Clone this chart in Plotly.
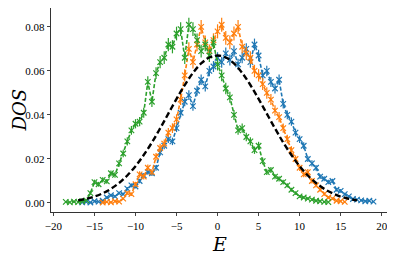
import plotly.graph_objects as go

# ---- data ----
E_blue = [-16.5,-16.0,-15.5,-15.0,-14.5,-14.0,-13.5,-13.0,-12.5,-12.0,-11.5,-11.0,-10.5,-10.0,-9.5,-9.0,-8.5,-8.0,-7.5,-7.0,-6.5,-6.0,-5.5,-5.0,-4.5,-4.0,-3.5,-3.0,-2.5,-2.0,-1.5,-1.0,-0.5,0.0,0.5,1.0,1.5,2.0,2.5,3.0,3.5,4.0,4.5,5.0,5.5,6.0,6.5,7.0,7.5,8.0,8.5,9.0,9.5,10.0,10.5,11.0,11.5,12.0,12.5,13.0,13.5,14.0,14.5,15.0,15.5,16.0,16.5,17.0,17.5,18.0,18.5,19.0]
dos_blue = [0.0003,0.0005,0.0002,0.0008,0.0006,0.001,0.0025,0.0035,0.003,0.0045,0.004,0.0065,0.008,0.0075,0.010,0.0125,0.014,0.0135,0.016,0.023,0.026,0.029,0.028,0.034,0.041,0.046,0.049,0.044,0.051,0.056,0.053,0.060,0.062,0.066,0.064,0.068,0.065,0.069,0.063,0.066,0.070,0.064,0.072,0.067,0.058,0.060,0.055,0.052,0.056,0.045,0.040,0.037,0.032,0.029,0.026,0.020,0.018,0.016,0.012,0.011,0.0095,0.010,0.006,0.0055,0.004,0.003,0.0018,0.0015,0.0012,0.0008,0.001,0.0006]
err_blue = [0.0002,0.0003,0.0002,0.0003,0.0003,0.0004,0.0005,0.0006,0.0006,0.0007,0.0006,0.0008,0.0009,0.0009,0.001,0.0011,0.0012,0.0012,0.0013,0.0015,0.0016,0.0017,0.0017,0.0018,0.002,0.0021,0.0022,0.0021,0.0023,0.0024,0.0023,0.0024,0.0025,0.0025,0.0025,0.0026,0.0025,0.0026,0.0025,0.0025,0.0026,0.0025,0.0027,0.0026,0.0024,0.0024,0.0023,0.0023,0.0024,0.0021,0.002,0.0019,0.0018,0.0017,0.0016,0.0014,0.0014,0.0013,0.0011,0.0011,0.001,0.001,0.0008,0.0008,0.0007,0.0006,0.0005,0.0004,0.0004,0.0003,0.0003,0.0003]

E_orange = [-14.0,-13.5,-13.0,-12.5,-12.0,-11.5,-11.0,-10.5,-10.0,-9.5,-9.0,-8.5,-8.0,-7.5,-7.0,-6.5,-6.0,-5.5,-5.0,-4.5,-4.0,-3.5,-3.0,-2.5,-2.0,-1.5,-1.0,-0.5,0.0,0.5,1.0,1.5,2.0,2.5,3.0,3.5,4.0,4.5,5.0,5.5,6.0,6.5,7.0,7.5,8.0,8.5,9.0,9.5,10.0,10.5,11.0,11.5,12.0,12.5,13.0,13.5,14.0,14.5,15.0,15.5]
dos_orange = [0.0002,0.0005,0.0003,0.0008,0.0006,0.002,0.0045,0.004,0.0085,0.013,0.012,0.016,0.014,0.021,0.025,0.027,0.032,0.034,0.038,0.047,0.058,0.070,0.064,0.072,0.080,0.073,0.069,0.074,0.078,0.081,0.075,0.073,0.077,0.080,0.071,0.068,0.066,0.060,0.058,0.054,0.050,0.047,0.042,0.039,0.034,0.029,0.024,0.020,0.016,0.013,0.014,0.010,0.008,0.006,0.004,0.0025,0.002,0.001,0.0008,0.0005]
err_orange = [0.0002,0.0003,0.0003,0.0004,0.0003,0.0005,0.0008,0.0008,0.0011,0.0014,0.0013,0.0015,0.0014,0.0017,0.0019,0.0019,0.0021,0.0022,0.0023,0.0025,0.0028,0.003,0.0029,0.003,0.0032,0.0031,0.003,0.0031,0.0032,0.0032,0.0031,0.0031,0.0032,0.0032,0.003,0.003,0.0029,0.0028,0.0028,0.0027,0.0026,0.0025,0.0024,0.0023,0.0021,0.002,0.0018,0.0016,0.0015,0.0013,0.0014,0.0012,0.001,0.0009,0.0007,0.0006,0.0005,0.0004,0.0003,0.0003]

E_green = [-18.5,-18.0,-17.5,-17.0,-16.5,-16.0,-15.5,-15.0,-14.5,-14.0,-13.5,-13.0,-12.5,-12.0,-11.5,-11.0,-10.5,-10.0,-9.5,-9.0,-8.5,-8.0,-7.5,-7.0,-6.5,-6.0,-5.5,-5.0,-4.5,-4.0,-3.5,-3.0,-2.5,-2.0,-1.5,-1.0,-0.5,0.0,0.5,1.0,1.5,2.0,2.5,3.0,3.5,4.0,4.5,5.0,5.5,6.0,6.5,7.0,7.5,8.0,8.5,9.0,9.5,10.0,10.5,11.0,11.5,12.0,12.5,13.0,13.5]
dos_green = [0.0005,0.0003,0.0006,0.0004,0.0008,0.0012,0.0045,0.0095,0.0085,0.0105,0.0098,0.0135,0.0128,0.018,0.0225,0.028,0.033,0.036,0.037,0.041,0.055,0.046,0.059,0.064,0.066,0.072,0.071,0.077,0.079,0.066,0.081,0.079,0.074,0.069,0.072,0.067,0.073,0.063,0.058,0.052,0.048,0.040,0.033,0.034,0.030,0.028,0.024,0.026,0.019,0.014,0.015,0.012,0.011,0.0095,0.008,0.006,0.0045,0.003,0.0025,0.002,0.0015,0.001,0.0008,0.0005,0.0004]
err_green = [0.0002,0.0002,0.0002,0.0002,0.0003,0.0003,0.0008,0.0011,0.0011,0.0012,0.0011,0.0013,0.0013,0.0015,0.0017,0.0019,0.002,0.0021,0.0021,0.0023,0.0026,0.0024,0.0027,0.0028,0.0029,0.003,0.003,0.0031,0.0031,0.0029,0.0032,0.0031,0.003,0.0029,0.003,0.0029,0.003,0.0028,0.0027,0.0026,0.0025,0.0023,0.002,0.0021,0.0019,0.0019,0.0017,0.0018,0.0015,0.0013,0.0014,0.0012,0.0012,0.0011,0.001,0.0009,0.0008,0.0006,0.0006,0.0005,0.0005,0.0004,0.0003,0.0003,0.0002]

E_fit = [-17,-16,-15,-14,-13,-12,-11,-10,-9,-8,-7,-6,-5,-4,-3,-2,-1,0,1,2,3,4,5,6,7,8,9,10,11,12,13,14,15,16,17]
dos_fit = [0.0012,0.0019,0.0029,0.0044,0.0064,0.0091,0.0125,0.0167,0.0218,0.0275,0.0339,0.0406,0.0473,0.0536,0.0591,0.0634,0.0661,0.0670,0.0661,0.0634,0.0591,0.0536,0.0473,0.0406,0.0339,0.0275,0.0218,0.0167,0.0125,0.0091,0.0064,0.0044,0.0029,0.0019,0.0012]

x_ticks = [-20, -15, -10, -5, 0, 5, 10, 15, 20]
y_ticks = [0.00, 0.02, 0.04, 0.06, 0.08]

colors = ["#1f77b4", "#ff7f0e", "#2ca02c"]

fig = go.Figure()
for E, d, e, c in [(E_blue, dos_blue, err_blue, colors[0]),
                   (E_orange, dos_orange, err_orange, colors[1]),
                   (E_green, dos_green, err_green, colors[2])]:
    fig.add_trace(go.Scatter(
        x=E, y=d, mode="lines+markers",
        line=dict(color=c, width=1.6, dash="4px,2px"),
        marker=dict(symbol="x-thin", size=5.5, line=dict(color=c, width=1.2)),
        error_y=dict(type="data", array=e, visible=True, color=c, thickness=1.2, width=0),
        showlegend=False))

fig.add_trace(go.Scatter(x=E_fit, y=dos_fit, mode="lines",
                         line=dict(color="black", width=2.4, dash="6px,3px"),
                         line_shape="spline", showlegend=False))

tick_font = "Liberation Serif"
title_font = "DejaVu Serif"
# page body adds an 8px offset; figure is sized so the plot lands where the reference has it
fig.update_layout(
    width=387, height=246,
    margin=dict(l=43, r=8, t=0, b=42, autoexpand=False),
    plot_bgcolor="white", paper_bgcolor="white",
    font=dict(family=tick_font, size=11, color="black"),
    annotations=[
        dict(text="<i>E</i>", x=0.5, y=0, xref="paper", yref="paper",
             xanchor="center", yanchor="top", yshift=-19, showarrow=False,
             font=dict(family=title_font, size=19)),
        dict(text="<i>DOS</i>", x=0, y=0.5, xref="paper", yref="paper",
             xanchor="right", yanchor="middle", xshift=-20, textangle=-90,
             showarrow=False, font=dict(family=title_font, size=18)),
    ],
)
fig.update_xaxes(range=[-20.3, 20.65], tickvals=x_ticks, ticks="outside", ticklen=3.5,
                 tickwidth=0.8, showgrid=False, zeroline=False, showline=True,
                 linecolor="#333", linewidth=0.8, mirror=True, automargin=False,
                 tickfont=dict(family=tick_font, size=11))
fig.update_yaxes(range=[-0.0041, 0.0886], tickvals=y_ticks, tickformat=".2f", ticks="outside",
                 ticklen=3.5, tickwidth=0.8, showgrid=False, zeroline=False, showline=True,
                 linecolor="#333", linewidth=0.8, mirror=True, automargin=False,
                 tickfont=dict(family=tick_font, size=11))

fig.write_html("out.html")
